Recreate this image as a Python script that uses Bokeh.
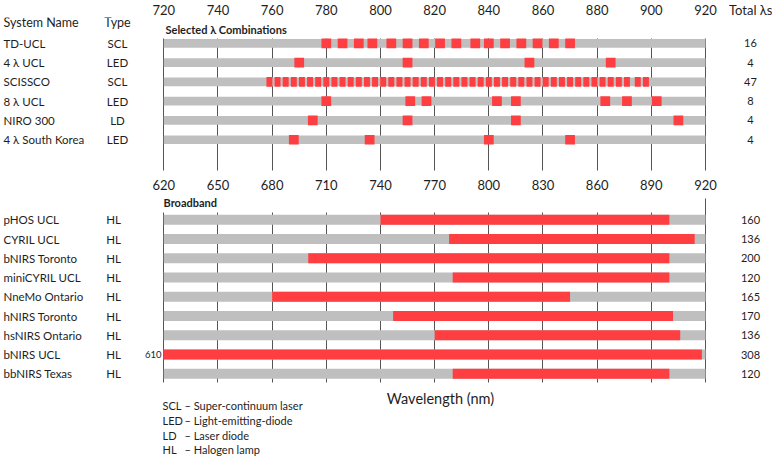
from bokeh.plotting import figure
from bokeh.layouts import column
from bokeh.core.properties import value
from bokeh.models import (Range1d, FixedTicker, LinearAxis, Grid, Label, LabelSet,
                          ColumnDataSource, BoxAnnotation)
from bokeh.embed import file_html
from bokeh.resources import INLINE

# ---------------- data ----------------
sel_names = ["TD-UCL", "4 λ UCL", "SCISSCO", "8 λ UCL", "NIRO 300", "4  λ South Korea"]
sel_types = ["SCL", "LED", "SCL", "LED", "LD", "LED"]
sel_totals = [16, 4, 47, 8, 4, 4]
td_ucl_wl = [780, 786, 792, 797, 804, 810, 816, 822, 828, 835, 840, 846, 852, 858, 864, 870]
led4_ucl_wl = [770, 810, 855, 885]
scissco_wl = [759, 762, 765, 768, 771, 774, 777, 780, 783, 786, 789, 792, 795, 798, 801, 804,
              807, 810, 813, 816, 819, 822, 825, 828, 831, 834, 837, 840, 843, 846, 849, 852,
              855, 858, 861, 864, 867, 870, 873, 876, 879, 882, 885, 888, 891, 895, 898]
led8_ucl_wl = [780, 811, 817, 843, 850, 883, 891, 902]
niro300_wl = [775, 810, 850, 910]
korea_wl = [768, 796, 840, 870]
sel_range = (720, 920)
sel_ticks = [720, 740, 760, 780, 800, 820, 840, 860, 880, 900, 920]
total_header = "Total λs"

bb_names = ["pHOS UCL", "CYRIL UCL", "bNIRS Toronto", "miniCYRIL UCL", "NneMo Ontario",
            "hNIRS Toronto", "hsNIRS Ontario", "bNIRS UCL", "bbNIRS Texas"]
bb_types = ["HL", "HL", "HL", "HL", "HL", "HL", "HL", "HL", "HL"]
bb_start = [740, 778, 700, 780, 680, 747, 770, 610, 780]
bb_end = [900, 914, 900, 900, 845, 902, 906, 918, 900]
bb_totals = [160, 136, 200, 120, 165, 170, 136, 308, 120]
bb_range = (620, 920)
bb_ticks = [620, 650, 680, 710, 740, 770, 800, 830, 860, 890, 920]

legend_abbr = ["SCL", "LED", "LD", "HL"]
legend_desc = ["Super-continuum laser", "Light-emitting-diode", "Laser diode", "Halogen lamp"]

# ---------------- style / layout ----------------
FONT = "Lato"
TXT = "#1e1e1e"
GRAY = "#BFBFBF"
RED = "#FF3E42"
GRIDC = "#555555"

W = 772
SHIFT = 2                     # page is lifted by this many pixels
X0, X1 = 163.3, 705.0         # pixel columns of the range ends
A_ROW0, A_PITCH = 42.0, 19.4  # pixel row of first selected-λ row, row pitch
B_ROW0, B_PITCH = 219.3, 19.25
A_FT, A_FB = 16, 173          # frame top / bottom (page pixels)
B_FT, B_FB = 189, 456


def xmap(px, rng):
    return rng[0] + (px - X0) * (rng[1] - rng[0]) / (X1 - X0)


def ax(px):
    return xmap(px, sel_range)


def bx(px):
    return xmap(px, bb_range)


def ay(py):
    return (py - A_ROW0) / A_PITCH


def by(py):
    return (py - B_ROW0) / B_PITCH


def make_axis(ticks, overrides=None):
    return LinearAxis(ticker=FixedTicker(ticks=ticks), axis_line_color=None,
                      major_tick_line_color=None, minor_tick_line_color=None,
                      major_tick_in=0, major_tick_out=0, minor_tick_in=0, minor_tick_out=0,
                      major_label_standoff=0, major_label_text_font=FONT,
                      major_label_text_font_size="13px", major_label_text_color=TXT,
                      major_label_overrides=overrides or {})


def make_grid(p, ticks, lo, hi):
    kw = dict(dimension=0, ticker=FixedTicker(ticks=ticks), grid_line_color=GRIDC,
              grid_line_width=1)
    if "cross_bounds" in Grid.properties():
        p.add_layout(Grid(cross_bounds=(min(lo, hi), max(lo, hi)), **kw))
    else:
        p.add_layout(Grid(**kw))
        p.add_layout(BoxAnnotation(bottom=min(lo, hi), fill_color="white", fill_alpha=1,
                                   line_color=None, level="underlay"))
        p.add_layout(BoxAnnotation(top=max(lo, hi), fill_color="white", fill_alpha=1,
                                   line_color=None, level="underlay"))


def txt(x, y, text, size="11.5px", align="left", bold=False):
    return Label(x=x, y=y, text=text, text_font=FONT, text_font_size=size, text_color=TXT,
                 text_align=align, text_baseline="middle",
                 text_font_style="bold" if bold else "normal")


def labels(src, x, col, size, align):
    return LabelSet(source=src, x=x, y="row", text=col, text_font=value(FONT),
                    text_font_size=value(size), text_color=value(TXT),
                    text_align=value(align), text_baseline=value("middle"))


# ---------------- top figure: selected wavelengths ----------------
A_H = A_FB + SHIFT
pA = figure(width=W, height=A_H, x_range=Range1d(ax(0), ax(W)),
            y_range=Range1d(ay(A_FB), ay(A_FT)),
            x_axis_type=None, y_axis_type=None, title=None,
            output_backend="svg", toolbar_location=None,
            min_border_left=0, min_border_right=0, min_border_top=A_FT + SHIFT,
            min_border_bottom=0, outline_line_color=None)
tot_x = 937
pA.add_layout(make_axis(sel_ticks + [tot_x], {tot_x: total_header}), "above")
make_grid(pA, sel_ticks, ay(37), ay(170))

rowsA = list(range(len(sel_names)))
srcA = ColumnDataSource(dict(row=rowsA, name=sel_names, typ=sel_types,
                             tot=[str(t) for t in sel_totals],
                             left=[sel_range[0]] * len(rowsA), right=[sel_range[1]] * len(rowsA)))
pA.hbar(y="row", left="left", right="right", height=0.45, source=srcA, fill_color=GRAY,
        line_color=None)

sq_lists = [td_ucl_wl, led4_ucl_wl, scissco_wl, led8_ucl_wl, niro300_wl, korea_wl]
xs, ys, ws = [], [], []
for i, wl in enumerate(sq_lists):
    for w in wl:
        xs.append(w)
        ys.append(i)
        ws.append(2.2 if len(wl) > 20 else 3.6)
pA.rect(x=xs, y=ys, width=ws, height=0.5, fill_color=RED, line_color=None)

pA.add_layout(labels(srcA, ax(3), "name", "11.5px", "left"))
pA.add_layout(labels(srcA, ax(117), "typ", "11.5px", "center"))
pA.add_layout(labels(srcA, ax(750), "tot", "11px", "center"))
pA.add_layout(txt(ax(3), ay(21.5), "System Name", size="12.5px"))
pA.add_layout(txt(ax(117), ay(21.5), "Type", size="12.5px", align="center"))
pA.add_layout(txt(ax(165), ay(28), "Selected λ Combinations", size="11px", bold=True))

# ---------------- bottom figure: broadband ----------------
B_H = B_FB - A_FB
pB = figure(width=W, height=B_H, x_range=Range1d(bx(0), bx(W)),
            y_range=Range1d(by(B_FB), by(B_FT)),
            x_axis_type=None, y_axis_type=None, title=None,
            output_backend="svg", toolbar_location=None,
            min_border_left=0, min_border_right=0, min_border_top=B_FT - A_FB,
            min_border_bottom=0, outline_line_color=None)
pB.add_layout(make_axis(bb_ticks), "above")
make_grid(pB, bb_ticks[:-1], by(212), by(382))
make_grid(pB, bb_ticks[-1:], by(198), by(382))

rowsB = list(range(len(bb_names)))
srcB = ColumnDataSource(dict(row=rowsB, name=bb_names, typ=bb_types,
                             tot=[str(t) for t in bb_totals],
                             left=[bb_range[0]] * len(rowsB), right=[bb_range[1]] * len(rowsB)))
srcR = ColumnDataSource(dict(row=rowsB, start=[max(s, bb_range[0]) for s in bb_start], end=bb_end))
pB.hbar(y="row", left="left", right="right", height=0.52, source=srcB, fill_color=GRAY,
        line_color=None)
pB.hbar(y="row", left="start", right="end", height=0.52, source=srcR, fill_color=RED,
        line_color=None)

pB.add_layout(labels(srcB, bx(3), "name", "11.5px", "left"))
pB.add_layout(labels(srcB, bx(113), "typ", "11.5px", "center"))
pB.add_layout(labels(srcB, bx(750), "tot", "11px", "center"))
pB.add_layout(txt(bx(161), 7, str(bb_start[7]), size="9.5px", align="right"))
pB.add_layout(txt(bx(163), by(202), "Broadband", size="11px", bold=True))
pB.add_layout(txt(bx(440), by(398), "Wavelength (nm)", size="14.5px", align="center"))

legend_px = [405, 419.5, 434.5, 449]
for ab, de, py in zip(legend_abbr, legend_desc, legend_px):
    pB.add_layout(txt(bx(162), by(py), ab, size="11px"))
    pB.add_layout(txt(bx(184), by(py), "– " + de, size="11px"))

layout = column(pA, pB, styles={"position": "absolute", "left": "0px", "top": f"-{SHIFT}px"})

open("out.html", "w").write(file_html(layout, INLINE))
